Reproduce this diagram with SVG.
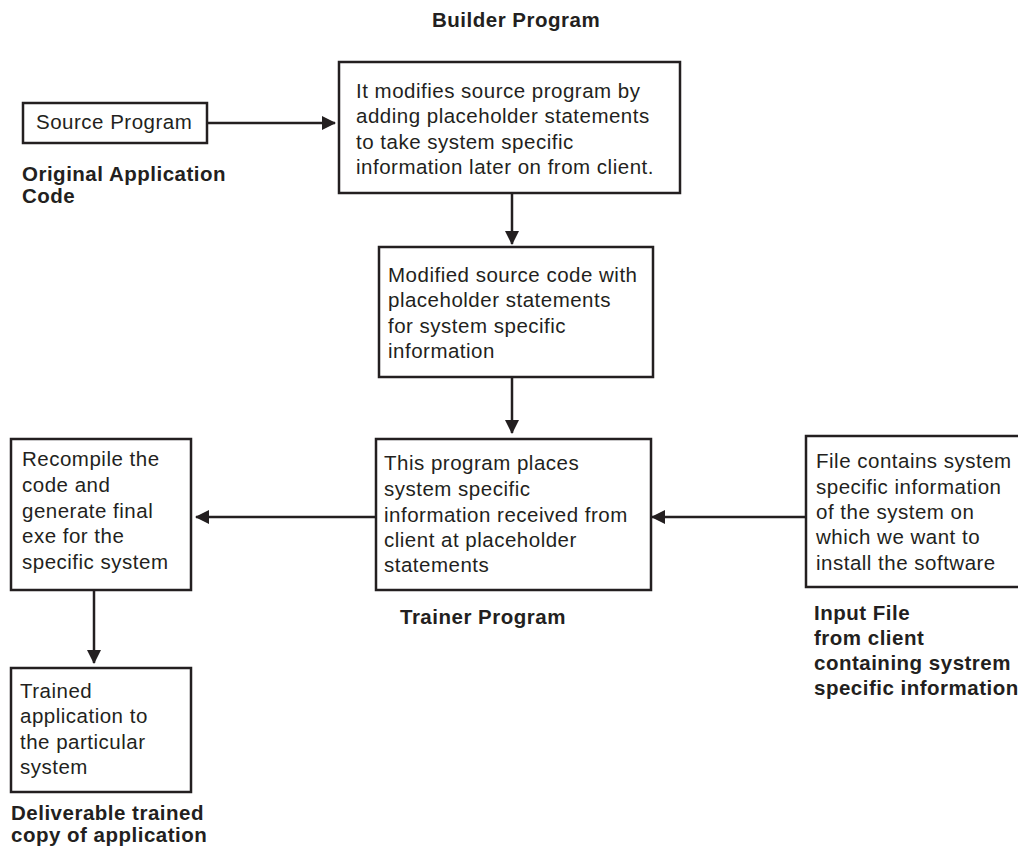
<svg xmlns="http://www.w3.org/2000/svg" width="1018" height="848" viewBox="0 0 1018 848">
<defs>
<marker id="arr" markerWidth="14" markerHeight="14" refX="13" refY="7" orient="auto" markerUnits="userSpaceOnUse">
<path d="M0,0 L14,7 L0,14 Z" fill="#231f20"/>
</marker>
<style>
.box{fill:#fff;stroke:#231f20;stroke-width:2.5}
.t{font-family:"Liberation Sans",Arial,sans-serif;font-size:20.5px;letter-spacing:0.5px;fill:#231f20}
.b{font-family:"Liberation Sans",Arial,sans-serif;font-size:20.5px;letter-spacing:0.5px;font-weight:bold;fill:#231f20}
.c{stroke:#231f20;stroke-width:2.5;fill:none;marker-end:url(#arr)}
</style>
</defs>
<rect width="1018" height="848" fill="#fff"/>
<g id="connectors">
<line class="c" x1="207" y1="123" x2="335" y2="123"/>
<line class="c" x1="512" y1="193" x2="512" y2="244"/>
<line class="c" x1="512" y1="377" x2="512" y2="433"/>
<line class="c" x1="806" y1="517" x2="652" y2="517"/>
<line class="c" x1="376" y1="517" x2="196" y2="517"/>
<line class="c" x1="94" y1="590" x2="94" y2="663"/>
</g>
<g id="source">
<rect class="box" x="23" y="103" width="184" height="40"/>
<text class="t" x="36" y="129">Source Program</text>
<text class="b" x="22" y="181">Original Application</text>
<text class="b" x="22" y="203">Code</text>
</g>
<g id="builder">
<text class="b" x="432" y="27">Builder Program</text>
<rect class="box" x="339" y="62" width="341" height="131"/>
<text class="t" x="356" y="98">It modifies source program by</text>
<text class="t" x="356" y="123">adding placeholder statements</text>
<text class="t" x="356" y="149">to take system specific</text>
<text class="t" x="356" y="174">information later on from client.</text>
</g>
<g id="modified">
<rect class="box" x="379" y="247" width="274" height="130"/>
<text class="t" x="388" y="282">Modified source code with</text>
<text class="t" x="388" y="307">placeholder statements</text>
<text class="t" x="388" y="333">for system specific</text>
<text class="t" x="388" y="358">information</text>
</g>
<g id="trainer">
<rect class="box" x="376" y="439" width="275" height="151"/>
<text class="t" x="384" y="470">This program places</text>
<text class="t" x="384" y="496">system specific</text>
<text class="t" x="384" y="522">information received from</text>
<text class="t" x="384" y="547">client at placeholder</text>
<text class="t" x="384" y="572">statements</text>
<text class="b" x="400" y="624">Trainer Program</text>
</g>
<g id="input">
<rect class="box" x="806" y="436" width="230" height="151"/>
<text class="t" x="816" y="468">File contains system</text>
<text class="t" x="816" y="494">specific information</text>
<text class="t" x="816" y="519">of the system on</text>
<text class="t" x="816" y="544">which we want to</text>
<text class="t" x="816" y="570">install the software</text>
<text class="b" x="814" y="620">Input File</text>
<text class="b" x="814" y="645">from client</text>
<text class="b" x="814" y="670">containing systrem</text>
<text class="b" x="814" y="695">specific information</text>
</g>
<g id="recompile">
<rect class="box" x="11" y="439" width="180" height="151"/>
<text class="t" x="22" y="466">Recompile the</text>
<text class="t" x="22" y="492">code and</text>
<text class="t" x="22" y="518">generate final</text>
<text class="t" x="22" y="543">exe for the</text>
<text class="t" x="22" y="569">specific system</text>
</g>
<g id="trained">
<rect class="box" x="11" y="668" width="180" height="124"/>
<text class="t" x="20" y="698">Trained</text>
<text class="t" x="20" y="723">application to</text>
<text class="t" x="20" y="749">the particular</text>
<text class="t" x="20" y="774">system</text>
<text class="b" x="11" y="820">Deliverable trained</text>
<text class="b" x="11" y="842">copy of application</text>
</g>
</svg>
